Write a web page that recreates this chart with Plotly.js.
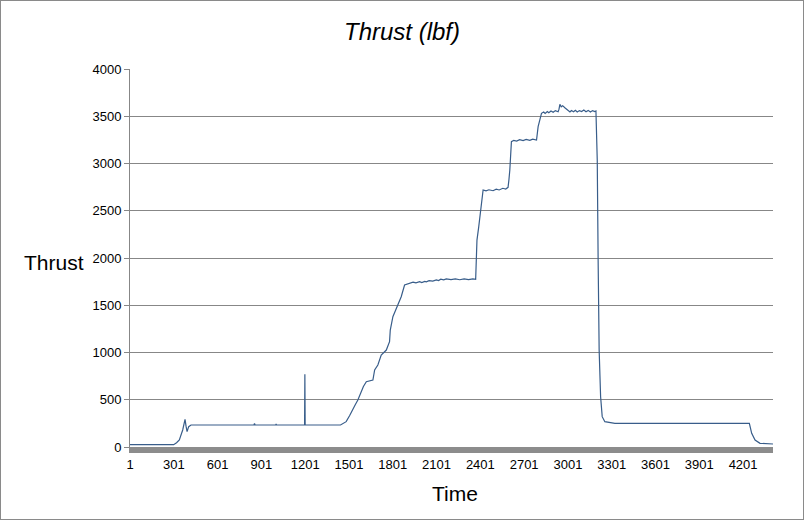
<!DOCTYPE html>
<html>
<head>
<meta charset="utf-8">
<script src="https://cdn.plot.ly/plotly-3.0.1.min.js"></script>
<style>
  html, body { margin: 0; padding: 0; background: #fff; }
  #chart { width: 802px; height: 518px; border: 1px solid #8a8a8a; }
</style>
</head>
<body>
<div id="chart"></div>
<script>
const time = [1,150,300,320,339,362,378,385,392,403,
  419,600,850,854,858,1000,1002,1004,1197,1199,
  1201,1443,1460,1482,1505,1528,1545,1562,1585,1600,
  1620,1640,1665,1677,1699,1722,1740,1757,1779,1784,
  1802,1820,1836,1859,1882,1900,
  1917,1940,1960,1985,2000,2020,2031,2050,2075,2100,
  2115,2130,2150,2168,2200,2230,2260,2290,2320,2350,2369,
  2372,2378,2390,2402,
  2420,2440,2460,2488,2510,2530,2555,2575,2591,
  2597,2603,
  2614,2630,2650,2670,2694,2715,2740,2760,2786,
  2797,2810,
  2820,2835,2845,2860,2870,2885,2900,2915,2934,2940,
  2946,2955,2965,2980,2992,3002,3015,3025,3040,3052,
  3065,3080,3095,3110,3125,3140,3155,3170,3185,3193,
  3197,3202,3208,3215,3225,3236,3254,3323,3700,4000,4244,
  4260,4283,4317,4360,4406];
const thrust = [25,25,25,45,74,180,293,220,162,215,
  233,233,233,250,233,233,245,233,233,770,
  233,233,245,268,330,409,450,497,585,640,
  691,700,709,815,868,974,1000,1026,1114,1238,
  1379,1450,1503,1590,1714,1725,
  1732,1745,1738,1750,1740,1752,1748,1760,1755,1768,
  1762,1775,1768,1778,1772,1778,1770,1778,1772,1780,1775,
  1900,2190,2330,2473,
  2720,2710,2722,2712,2728,2720,2738,2730,2748,
  2830,2931,
  3231,3245,3238,3252,3242,3255,3245,3258,3249,
  3390,3470,
  3531,3545,3530,3550,3538,3556,3542,3560,3548,3575,
  3626,3600,3612,3590,3575,3559,3545,3560,3548,3563,
  3545,3560,3550,3566,3548,3562,3545,3560,3550,3556,
  3249,3037,1979,1026,532,321,268,250,250,250,250,
  145,74,39,32,32];
const xTickVals = [1,301,601,901,1201,1501,1801,2101,2401,2701,3001,3301,3601,3901,4201];
const xTickText = xTickVals.map(String);
const yTickVals = [0,500,1000,1500,2000,2500,3000,3500,4000];

const data = [{
  x: time, y: thrust, type: 'scatter', mode: 'lines',
  line: {color: '#385d8a', width: 1.2}, hoverinfo: 'skip'
}];

const layout = {
  width: 802, height: 518,
  margin: {l: 129, r: 30, t: 68, b: 72},
  paper_bgcolor: '#ffffff', plot_bgcolor: '#ffffff',
  showlegend: false,
  font: {family: 'Liberation Sans, Arial, sans-serif', color: '#000', size: 13},
  title: {text: 'Thrust (lbf)', xref: 'container', yref: 'container', x: 0.5, y: 0.94,
          xanchor: 'center', yanchor: 'middle',
          font: {family: 'Liberation Sans, Arial, sans-serif', size: 24, style: 'italic', color: '#000'}},
  xaxis: {
    range: [1, 4406], showgrid: false, zeroline: false,
    tickmode: 'array', tickvals: xTickVals, ticktext: xTickText, ticks: '',
    showline: true, linecolor: '#8c8c8c', linewidth: 6,
    tickfont: {size: 13, color: '#000'}
  },
  yaxis: {
    range: [0, 4000], tickmode: 'array', tickvals: yTickVals,
    showgrid: true, gridcolor: '#878787', gridwidth: 1, zeroline: false,
    showline: true, linecolor: '#878787', linewidth: 1,
    ticks: 'outside', ticklen: 5, tickcolor: '#878787',
    tickfont: {size: 13, color: '#000'}
  },
  annotations: [
    {text: 'Thrust', xref: 'paper', yref: 'paper', x: -0.1182, y: 0.4894,
     xanchor: 'center', yanchor: 'middle', showarrow: false,
     font: {size: 21, color: '#000'}},
    {text: 'Time', xref: 'paper', yref: 'paper', x: 0.5054, y: -0.1243,
     xanchor: 'center', yanchor: 'middle', showarrow: false,
     font: {size: 21, color: '#000'}}
  ]
};

Plotly.newPlot('chart', data, layout, {staticPlot: true, displayModeBar: false});
</script>
</body>
</html>
